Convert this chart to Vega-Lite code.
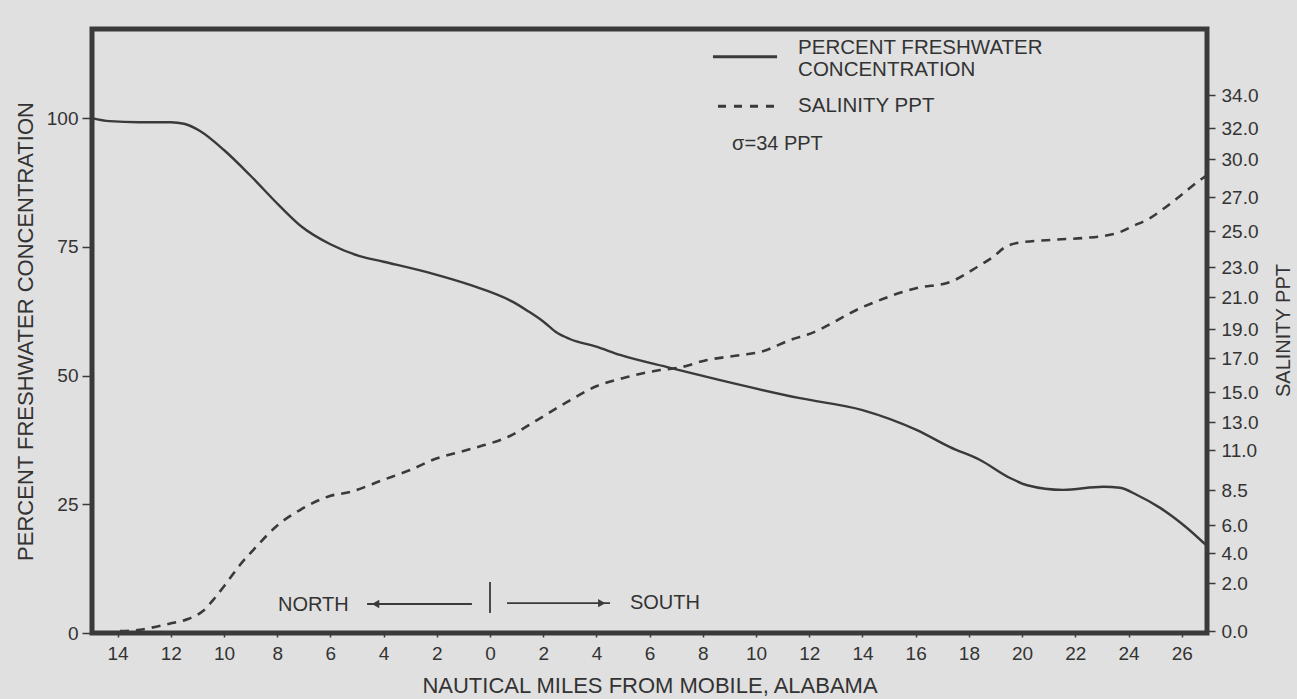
{
  "$schema": "https://vega.github.io/schema/vega-lite/v6.json",
  "width": 1115,
  "height": 604,
  "autosize": {"type": "none"},
  "padding": {"left": 92, "top": 29, "right": 90, "bottom": 66},
  "background": "#e0e0e0",
  "config": {
    "view": {"stroke": "#3a3a3a", "strokeWidth": 5},
    "axis": {
      "labelFont": "Liberation Sans",
      "titleFont": "Liberation Sans",
      "titleFontWeight": "normal",
      "labelColor": "#333333",
      "titleColor": "#333333",
      "tickColor": "#3a3a3a",
      "tickWidth": 1.5,
      "domain": false,
      "grid": false,
      "labelFontSize": 19,
      "titleFontSize": 22
    },
    "text": {"font": "Liberation Sans", "color": "#333333"}
  },
  "datasets": {
    "fresh": [
      {"nm": -14.96, "pct": 100.0},
      {"nm": -14.3, "pct": 99.4},
      {"nm": -13.2, "pct": 99.2},
      {"nm": -12.0, "pct": 99.2},
      {"nm": -11.5, "pct": 98.9},
      {"nm": -10.9, "pct": 97.5},
      {"nm": -10.0, "pct": 93.8},
      {"nm": -9.0, "pct": 88.8},
      {"nm": -7.9, "pct": 82.9},
      {"nm": -7.1, "pct": 79.0},
      {"nm": -6.0, "pct": 75.5},
      {"nm": -4.9, "pct": 73.2},
      {"nm": -4.0, "pct": 72.1},
      {"nm": -2.1, "pct": 69.7},
      {"nm": -0.75, "pct": 67.6},
      {"nm": 0.86, "pct": 64.3},
      {"nm": 1.43, "pct": 62.5},
      {"nm": 2.0, "pct": 60.5},
      {"nm": 2.52, "pct": 58.3},
      {"nm": 3.0, "pct": 57.1},
      {"nm": 4.0, "pct": 55.6},
      {"nm": 4.89, "pct": 54.0},
      {"nm": 6.77, "pct": 51.5},
      {"nm": 8.65, "pct": 49.1},
      {"nm": 11.65, "pct": 45.6},
      {"nm": 14.0, "pct": 43.3},
      {"nm": 16.05, "pct": 39.4},
      {"nm": 17.29, "pct": 36.1},
      {"nm": 18.42, "pct": 33.6},
      {"nm": 19.55, "pct": 30.1},
      {"nm": 20.19, "pct": 28.7},
      {"nm": 21.54, "pct": 27.8},
      {"nm": 23.05, "pct": 28.4},
      {"nm": 23.68, "pct": 28.2},
      {"nm": 24.32, "pct": 26.8},
      {"nm": 25.19, "pct": 24.3},
      {"nm": 26.2, "pct": 20.4},
      {"nm": 26.95, "pct": 16.9}
    ],
    "salinity": [
      {"nm": -13.91, "ppt": 0.0},
      {"nm": -13.16, "ppt": 0.05},
      {"nm": -12.59, "ppt": 0.17},
      {"nm": -11.95, "ppt": 0.33},
      {"nm": -11.35, "ppt": 0.5},
      {"nm": -10.79, "ppt": 0.83},
      {"nm": -10.41, "ppt": 1.29},
      {"nm": -9.96, "ppt": 1.92},
      {"nm": -9.4, "ppt": 3.2},
      {"nm": -8.83, "ppt": 4.36},
      {"nm": -7.93, "ppt": 6.07},
      {"nm": -7.14, "ppt": 7.07},
      {"nm": -6.02, "ppt": 8.07},
      {"nm": -5.26, "ppt": 8.36},
      {"nm": -4.02, "ppt": 9.13},
      {"nm": -3.0, "ppt": 9.75},
      {"nm": -2.07, "ppt": 10.44},
      {"nm": -1.13, "ppt": 10.88},
      {"nm": -0.49, "ppt": 11.2},
      {"nm": 0.75, "ppt": 12.0},
      {"nm": 1.77, "ppt": 13.13},
      {"nm": 2.89, "ppt": 14.33},
      {"nm": 4.02, "ppt": 15.35},
      {"nm": 5.15, "ppt": 15.88},
      {"nm": 6.39, "ppt": 16.29},
      {"nm": 7.03, "ppt": 16.41},
      {"nm": 8.16, "ppt": 16.88},
      {"nm": 9.4, "ppt": 17.2},
      {"nm": 10.15, "ppt": 17.41},
      {"nm": 11.39, "ppt": 18.31},
      {"nm": 11.92, "ppt": 18.6},
      {"nm": 14.02, "ppt": 20.38},
      {"nm": 16.05, "ppt": 21.6},
      {"nm": 17.29, "ppt": 22.0},
      {"nm": 18.31, "ppt": 23.0},
      {"nm": 18.91, "ppt": 23.56},
      {"nm": 19.36, "ppt": 24.1},
      {"nm": 19.81, "ppt": 24.33},
      {"nm": 21.05, "ppt": 24.5},
      {"nm": 22.29, "ppt": 24.61},
      {"nm": 23.05, "ppt": 24.72},
      {"nm": 23.68, "ppt": 24.94},
      {"nm": 24.17, "ppt": 25.29},
      {"nm": 24.81, "ppt": 25.76},
      {"nm": 25.3, "ppt": 26.29},
      {"nm": 25.94, "ppt": 27.08},
      {"nm": 26.8, "ppt": 28.5},
      {"nm": 26.95, "ppt": 28.7}
    ],
    "legendSolid": [
      {"nm": 8.38, "pct": 111.9},
      {"nm": 10.79, "pct": 111.9}
    ],
    "legendDash": [
      {"nm": 8.57, "pct": 102.3},
      {"nm": 10.75, "pct": 102.3}
    ],
    "legendText": [
      {"label": "PERCENT FRESHWATER\nCONCENTRATION", "nm": 11.58, "pct": 112.5},
      {"label": "SALINITY PPT", "nm": 11.58, "pct": 101.2}
    ],
    "noteText": [
      {"label": "σ=34 PPT", "nm": 9.1, "pct": 93.8},
      {"label": "NORTH", "nm": -7.97, "pct": 4.3},
      {"label": "SOUTH", "nm": 5.26, "pct": 4.6}
    ],
    "arrows": [
      {"nm": -4.62, "nm2": -0.68, "pct": 5.63},
      {"nm": 0.64, "nm2": 4.51, "pct": 5.8}
    ],
    "divider": [
      {"nm": 0, "pct": 3.9, "pct2": 9.9}
    ],
    "heads": [
      {"dir": "north", "nm": -4.3, "pct": 5.63},
      {"dir": "south", "nm": 4.2, "pct": 5.8}
    ]
  },
  "layer": [
    {
      "layer": [
        {
          "data": {"name": "fresh"},
          "mark": {"type": "line", "color": "#3a3a3a", "strokeWidth": 2.4, "interpolate": "monotone"},
          "encoding": {
            "x": {
              "field": "nm", "type": "quantitative",
              "scale": {"domain": [-14.96, 26.95], "nice": false, "zero": false},
              "axis": {
                "title": "NAUTICAL MILES FROM MOBILE, ALABAMA",
                "values": [-14, -12, -10, -8, -6, -4, -2, 0, 2, 4, 6, 8, 10, 12, 14, 16, 18, 20, 22, 24, 26],
                "labelExpr": "'' + abs(datum.value)",
                "tickSize": 4,
                "labelPadding": 7,
                "titlePadding": 12
              }
            },
            "y": {
              "field": "pct", "type": "quantitative",
              "scale": {"domain": [0, 117.3], "nice": false, "zero": false},
              "axis": {
                "orient": "left",
                "title": "PERCENT FRESHWATER CONCENTRATION",
                "values": [0, 25, 50, 75, 100],
                "tickSize": 10,
                "labelPadding": 4,
                "titlePadding": 9
              }
            }
          }
        },
        {
          "data": {"name": "legendSolid"},
          "mark": {"type": "line", "color": "#3a3a3a", "strokeWidth": 3},
          "encoding": {
            "x": {"field": "nm", "type": "quantitative"},
            "y": {"field": "pct", "type": "quantitative"}
          }
        },
        {
          "data": {"name": "legendDash"},
          "mark": {"type": "line", "color": "#3a3a3a", "strokeWidth": 3, "strokeDash": [8, 8]},
          "encoding": {
            "x": {"field": "nm", "type": "quantitative"},
            "y": {"field": "pct", "type": "quantitative"}
          }
        },
        {
          "data": {"name": "legendText"},
          "mark": {"type": "text", "align": "left", "baseline": "alphabetic", "fontSize": 20.5, "lineBreak": "\n", "lineHeight": 22},
          "encoding": {
            "x": {"field": "nm", "type": "quantitative"},
            "y": {"field": "pct", "type": "quantitative"},
            "text": {"field": "label"}
          }
        },
        {
          "data": {"name": "noteText"},
          "mark": {"type": "text", "align": "left", "baseline": "alphabetic", "fontSize": 20},
          "encoding": {
            "x": {"field": "nm", "type": "quantitative"},
            "y": {"field": "pct", "type": "quantitative"},
            "text": {"field": "label"}
          }
        },
        {
          "data": {"name": "arrows"},
          "mark": {"type": "rule", "color": "#3a3a3a", "strokeWidth": 1.8},
          "encoding": {
            "x": {"field": "nm", "type": "quantitative"},
            "x2": {"field": "nm2"},
            "y": {"field": "pct", "type": "quantitative"}
          }
        },
        {
          "data": {"name": "divider"},
          "mark": {"type": "rule", "color": "#3a3a3a", "strokeWidth": 1.8},
          "encoding": {
            "x": {"field": "nm", "type": "quantitative"},
            "y": {"field": "pct", "type": "quantitative"},
            "y2": {"field": "pct2"}
          }
        },
        {
          "data": {"name": "heads"},
          "mark": {"type": "point", "filled": true, "color": "#3a3a3a", "size": 70, "opacity": 1},
          "encoding": {
            "x": {"field": "nm", "type": "quantitative"},
            "y": {"field": "pct", "type": "quantitative"},
            "shape": {
              "field": "dir", "type": "nominal",
              "scale": {"domain": ["north", "south"], "range": ["triangle-left", "triangle-right"]},
              "legend": null
            }
          }
        }
      ]
    },
    {
      "data": {"name": "salinity"},
      "mark": {"type": "line", "color": "#3a3a3a", "strokeWidth": 2.6, "strokeDash": [9, 7], "interpolate": "monotone"},
      "encoding": {
        "x": {"field": "nm", "type": "quantitative"},
        "y": {
          "field": "ppt", "type": "quantitative",
          "scale": {
            "domain": [0, 2, 4, 6, 8.5, 11, 13, 15, 17, 19, 21, 23, 25, 27, 30, 32, 34, 38],
            "range": [602, 554, 524, 496, 461, 421, 393, 363, 329, 300, 268, 238, 202, 168, 130, 99, 66, 0],
            "nice": false,
            "zero": false
          },
          "axis": {
            "orient": "right",
            "title": "SALINITY PPT",
            "titleFontSize": 20,
            "values": [0, 2, 4, 6, 8.5, 11, 13, 15, 17, 19, 21, 23, 25, 27, 30, 32, 34],
            "format": ".1f",
            "tickSize": 8,
            "labelPadding": 6,
            "titleAngle": -90,
            "titleBaseline": "top",
            "titlePadding": 16
          }
        }
      }
    }
  ],
  "resolve": {"scale": {"y": "independent"}, "axis": {"y": "independent"}}
}
